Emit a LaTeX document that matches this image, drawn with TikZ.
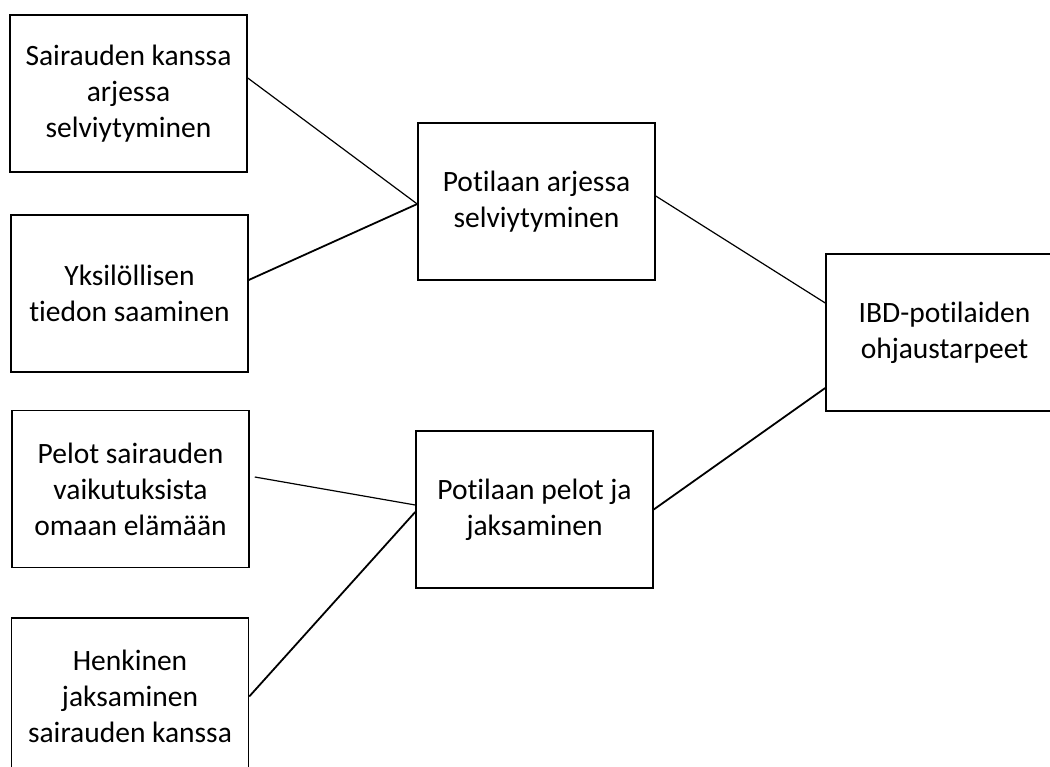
\documentclass[tikz,border=0pt]{standalone}
\usepackage{fontspec}
\setmainfont[Ligatures={NoCommon}]{Carlito}
\usetikzlibrary{positioning}

\begin{document}
\begin{tikzpicture}[
  x=1pt, y=-1pt,
  every node/.style={font=\fontsize{29.5}{36}\selectfont},
  box/.style={draw, line width=1.5pt, minimum width=237pt, minimum height=157pt,
              inner sep=0pt, align=center},
  link/.style={line width=1.2pt},
  thicklink/.style={line width=1.8pt},
]

% --- frame ---
\useasboundingbox (0,0) rectangle (1050,767);
\clip (0,0) rectangle (1050,767);

% --- left column ---
\node[box] (arki)   at (128.5, 93.5) {Sairauden kanssa\\arjessa\\selviytyminen};
\node[box] (tieto)  at (129.5,293.5) {Yksilöllisen\\tiedon saaminen};
\node[box] (pelot)  at (130.5,489)   {Pelot sairauden\\vaikutuksista\\omaan elämään};
\node[box] (henki)  at (130,696.5)   {Henkinen\\jaksaminen\\sairauden kanssa};

% --- middle column ---
\node[box] (arkiM)  at (536.5,201.5) {Potilaan arjessa\\selviytyminen};
\node[box] (pelotM) at (534.5,509.5) {Potilaan pelot ja\\jaksaminen};

% --- right ---
\node[box] (tarve)  at (944.5,332.5) {IBD-potilaiden\\ohjaustarpeet};

% --- connectors ---
\draw[link]      ([yshift=15.5pt]arki.east) -- ([yshift=-2.5pt]arkiM.west);
\draw[thicklink] ([yshift=13.5pt]tieto.east) -- ([yshift=-2.5pt]arkiM.west);
\draw[link]      ([xshift=5pt,yshift=12pt]pelot.east) -- ([yshift=4.5pt]pelotM.west);
\draw[thicklink] (henki.east) -- ([yshift=-2.5pt]pelotM.west);
\draw[link]      ([yshift=5.5pt]arkiM.east) -- ([yshift=29.5pt]tarve.west);
\draw[thicklink] (pelotM.east) -- ([yshift=-55.5pt]tarve.west);

\end{tikzpicture}
\end{document}
